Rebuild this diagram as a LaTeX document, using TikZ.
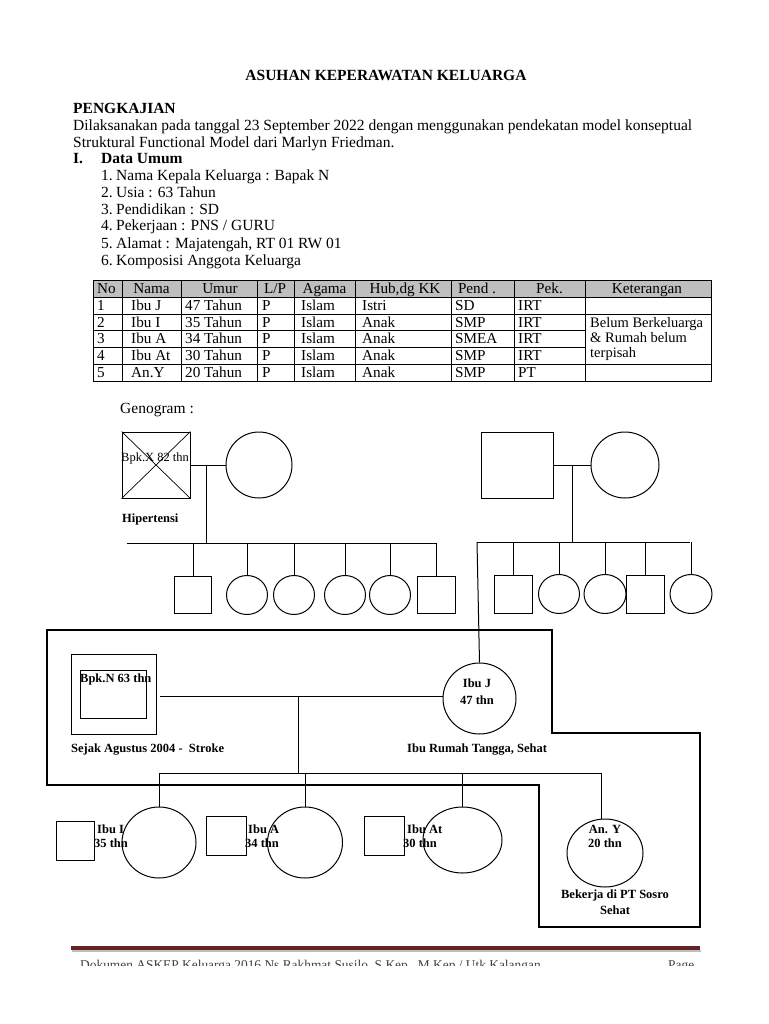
\documentclass[tikz,border=0pt]{standalone}
\usepackage{fontspec}
\setmainfont{Liberation Serif}
\usetikzlibrary{shapes.geometric}
\definecolor{footred}{RGB}{99,36,35}
\begin{document}
\begin{tikzpicture}[x=1pt,y=-1pt,
  body/.style={inner sep=0pt, anchor=base west, font=\fontsize{15.5}{17}\selectfont},
  bodyb/.style={inner sep=0pt, anchor=base west, font=\fontsize{15.5}{17}\selectfont\bfseries},
  cell/.style={inner sep=0pt, anchor=base west, font=\fontsize{15.2}{16}\selectfont},
  head/.style={inner sep=0pt, anchor=base, font=\fontsize{15.2}{16}\selectfont},
  lab/.style={inner sep=0pt, anchor=base west, font=\fontsize{12.5}{14}\selectfont\bfseries},
  labc/.style={inner sep=0pt, anchor=base, font=\fontsize{12.5}{14}\selectfont\bfseries},
  male/.style={draw, rectangle, inner sep=0pt, line width=1pt},
  female/.style={draw, ellipse, inner sep=0pt, line width=1pt},
  link/.style={line width=1pt},
  frameline/.style={line width=1.8pt, line join=miter}]
\useasboundingbox (0,0) rectangle (768,1024);
\fill[white] (0,0) rectangle (768,1024);

% ---------- header text ----------
\node[bodyb, anchor=base] (title) at (386,81) {ASUHAN KEPERAWATAN KELUARGA};
\node[bodyb] (peng) at (73,114) {PENGKAJIAN};
\node[body] (p1) at (73,131) {Dilaksanakan pada tanggal 23 September 2022 dengan menggunakan pendekatan model konseptual};
\node[body] (p2) at (73,148) {Struktural Functional Model dari Marlyn Friedman.};
\node[bodyb] (secI) at (73,164) {I.};
\node[bodyb] (secT) at (101,164) {Data Umum};
\node[body] (n1) at (101,181) {1.}; \node[body] (t1) at (116,181) {Nama Kepala Keluarga : Bapak N};
\node[body] (n2) at (101,198) {2.}; \node[body] (t2) at (116,198) {Usia : 63 Tahun};
\node[body] (n3) at (101,214.5) {3.}; \node[body] (t3) at (116,214.5) {Pendidikan : SD};
\node[body] (n4) at (101,231) {4.}; \node[body] (t4) at (116,231) {Pekerjaan : PNS / GURU};
\node[body] (n5) at (101,248) {5.}; \node[body] (t5) at (116,248) {Alamat : Majatengah, RT 01 RW 01};
\node[body] (n6) at (101,265) {6.}; \node[body] (t6) at (116,265) {Komposisi Anggota Keluarga};

% ---------- table ----------
\fill[gray!50] (93,280) rectangle (711,297);
\draw[line width=0.9pt] (93,280) rectangle (711,381);
\draw[line width=0.8pt] (93,297) -- (711,297) (93,314) -- (711,314)
  (93,330) -- (585,330) (93,347) -- (585,347) (93,364) -- (711,364);
\foreach \cx in {122,181,257,294,355,451,514,585}
  \draw[line width=0.8pt] (\cx,280) -- (\cx,381);
% header
\node[head] (h1) at (106.5,293) {No};
\node[head] (h2) at (151.5,293) {Nama};
\node[head] (h3) at (220,293) {Umur};
\node[head] (h4) at (275,293) {L/P};
\node[head] (h5) at (324.5,293) {Agama};
\node[head] (h6) at (405,293) {Hub,dg KK};
\node[head] (h7) at (477,293) {Pend .};
\node[head] (h8) at (549.5,293) {Pek.};
\node[head] (h9) at (647,293) {Keterangan};
% rows
\foreach \y/\no/\nm/\um/\hub/\pd/\pk in
  {310/1/Ibu J/47 Tahun/Istri/SD/IRT,
   327/2/Ibu I/35 Tahun/Anak/SMP/IRT,
   343/3/Ibu A/34 Tahun/Anak/SMEA/IRT,
   360/4/Ibu At/30 Tahun/Anak/SMP/IRT,
   377/5/An.Y/20 Tahun/Anak/SMP/PT}{
  \node[cell] at (97,\y) {\no};
  \node[cell] at (131,\y) {\nm};
  \node[cell] at (185,\y) {\um};
  \node[cell] at (262,\y) {P};
  \node[cell] at (301,\y) {Islam};
  \node[cell] at (362,\y) {\hub};
  \node[cell] at (455,\y) {\pd};
  \node[cell] at (518,\y) {\pk};
}
\node[cell, font=\fontsize{14.5}{16}\selectfont] (k1) at (590,327) {Belum Berkeluarga};
\node[cell, font=\fontsize{14.5}{16}\selectfont] (k2) at (590,342) {\& Rumah belum};
\node[cell, font=\fontsize{14.5}{16}\selectfont] (k3) at (590,357) {terpisah};

% ---------- genogram ----------
\node[body] (geno) at (120,413) {Genogram :};

% grandparents left
\node[male, minimum width=68pt, minimum height=66pt] (bx) at (156,465) {};
\draw[line width=0.7pt] (bx.north west) -- (bx.south east) (bx.north east) -- (bx.south west);
\node[inner sep=0pt, anchor=base west, font=\fontsize{12.5}{14}\selectfont] (bxl) at (121,461) {Bpk.X 82 thn};
\node[female, minimum width=66pt, minimum height=66pt] (ix) at (259,465) {};
\node[lab] (hip) at (122,522) {Hipertensi};
\draw[link] (bx.east) -- (ix.west);
\coordinate (m1) at (206,465);
\coordinate (s1a) at (127,543);
\coordinate (s1b) at (436,543);
\draw[link] (m1) -- (m1 |- s1a);
\draw[link] (s1a) -- (s1b);
\node[male, minimum width=37pt, minimum height=37pt] (a1) at (193,595) {};
\node[female, minimum width=41pt, minimum height=39pt] (a2) at (247,595) {};
\node[female, minimum width=41pt, minimum height=39pt] (a3) at (294,595) {};
\node[female, minimum width=41pt, minimum height=39pt] (a4) at (345,595) {};
\node[female, minimum width=41pt, minimum height=39pt] (a5) at (390,595) {};
\node[male, minimum width=38pt, minimum height=37pt] (a6) at (436,595) {};
\foreach \n in {a1,a2,a3,a4,a5,a6}
  \draw[link] (\n.north) -- (\n.north |- s1a);

% grandparents right
\node[male, minimum width=72pt, minimum height=66pt] (by) at (517,465) {};
\node[female, minimum width=68pt, minimum height=66pt] (iy) at (625,465) {};
\draw[link] (by.east) -- (iy.west);
\coordinate (m2) at (572,465);
\coordinate (s2a) at (477,542);
\coordinate (s2b) at (690,542);
\draw[link] (m2) -- (m2 |- s2a);
\draw[link] (s2a) -- (s2b);
\node[male, minimum width=38pt, minimum height=38pt] (b1) at (513,594) {};
\node[female, minimum width=41pt, minimum height=39pt] (b2) at (559,594) {};
\node[female, minimum width=42pt, minimum height=39pt] (b3) at (605,594) {};
\node[male, minimum width=38pt, minimum height=38pt] (b4) at (645,594) {};
\node[female, minimum width=42pt, minimum height=39pt] (b5) at (691,594) {};
\foreach \n in {b1,b2,b3,b4,b5}
  \draw[link] (\n.north) -- (\n.north |- s2a);

% household frame
\draw[frameline] (47,630) -- (552,630) -- (552,733) -- (700,733) -- (700,927)
  -- (539,927) -- (539,785) -- (47,785) -- cycle;

% parents
\node[male, minimum width=85pt, minimum height=80pt] (bn) at (113.5,694) {};
\node[male, minimum width=66pt, minimum height=48pt] (bni) at (113,694) {};
\node[lab] (bnl) at (80,682) {Bpk.N 63 thn};
\node[female, minimum width=73pt, minimum height=71pt] (ij) at (479.5,698.5) {};
\node[labc] (ijl1) at (477,687) {Ibu J};
\node[labc] (ijl2) at (477,704) {47 thn};
\node[lab] (bnd) at (71,752) {Sejak Agustus 2004 -\ \ Stroke};
\node[lab] (ijd) at (407,752) {Ibu Rumah Tangga, Sehat};
\draw[link] (s2a) -- (ij.north);
\coordinate (m3) at (298,696);
\draw[link] ([xshift=3pt]bn.east |- m3) -- (ij.west |- m3);
\coordinate (s3a) at (159,773);
\coordinate (s3b) at (601,773);
\draw[link] (m3) -- (m3 |- s3a);
\draw[link] (s3a) -- (s3b);

% children
\node[male, minimum width=38pt, minimum height=39pt] (ci1) at (75,840.5) {};
\node[female, minimum width=74pt, minimum height=71pt] (c1) at (159,842.5) {};
\node[male, minimum width=40pt, minimum height=39pt] (ci2) at (226,835.5) {};
\node[female, minimum width=75pt, minimum height=71pt] (c2) at (305,842.5) {};
\node[male, minimum width=40pt, minimum height=39pt] (ci3) at (384,835.5) {};
\node[female, minimum width=79pt, minimum height=66pt] (c3) at (462.5,840) {};
\node[female, minimum width=76pt, minimum height=68pt] (c4) at (605,853) {};
\foreach \n in {c1,c2,c3}
  \draw[link] (\n.north) -- (\n.north |- s3a);
\draw[link] (c4.north -| s3b) -- (s3b);
\node[lab] (c1l1) at (97,833) {Ibu I};
\node[lab] (c1l2) at (94,847) {35 thn};
\node[lab] (c2l1) at (248,833) {Ibu A};
\node[lab] (c2l2) at (245,847) {34 thn};
\node[lab] (c3l1) at (407,833) {Ibu At};
\node[lab] (c3l2) at (403,847) {30 thn};
\node[labc] (c4l1) at (605,833) {An. Y};
\node[labc] (c4l2) at (605,847) {20 thn};
\node[labc] (c4d1) at (615,898) {Bekerja di PT Sosro};
\node[labc] (c4d2) at (615,914) {Sehat};

% ---------- footer ----------
\draw[line width=2pt, black!25] (72,951) -- (701,951);
\draw[line width=4pt, footred] (71,948) -- (700,948);
\begin{scope}
  \clip (0,0) rectangle (768,965);
  \node[inner sep=0pt, anchor=base west, font=\fontsize{13.4}{15}\selectfont, text=black!75] (ft) at (80,969)
    {Dokumen ASKEP Keluarga 2016 Ns Rakhmat Susilo, S.Kep., M.Kep / Utk Kalangan};
  \node[inner sep=0pt, anchor=base west, font=\fontsize{13.4}{15}\selectfont, text=black!75] (fp) at (668,969) {Page};
\end{scope}
\end{tikzpicture}
\end{document}
